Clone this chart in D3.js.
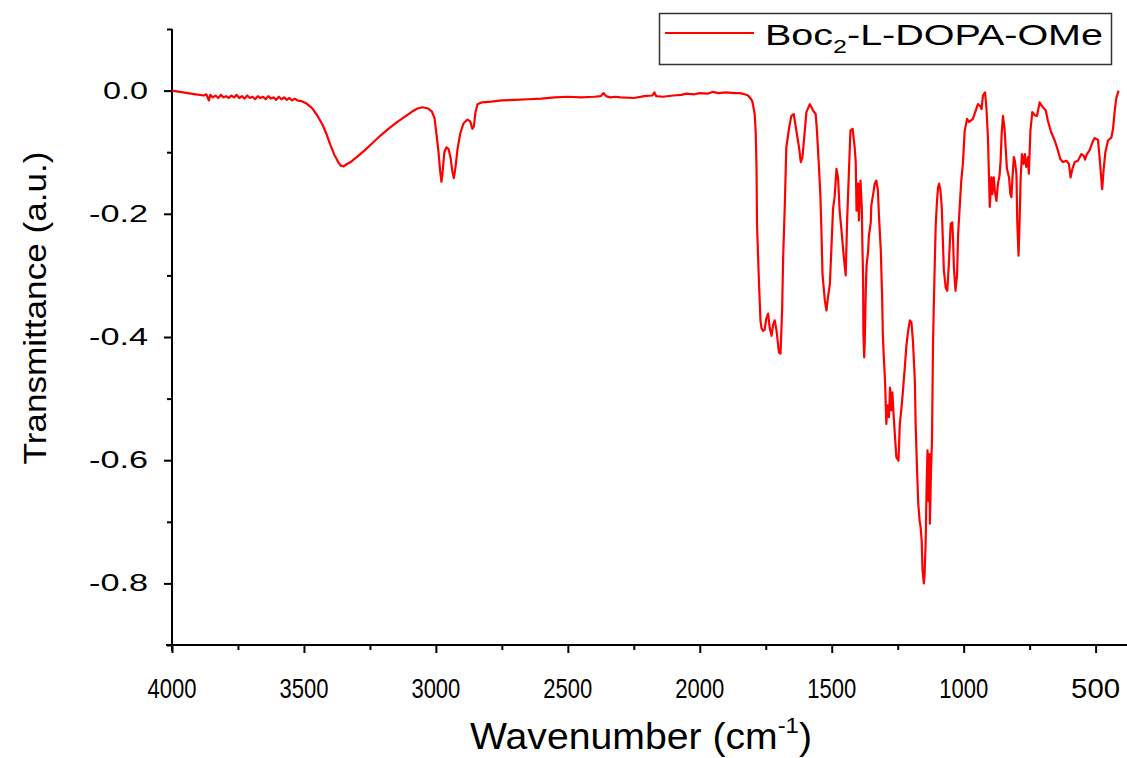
<!DOCTYPE html>
<html>
<head>
<meta charset="utf-8">
<script src="https://cdn.jsdelivr.net/npm/d3@7"></script>
<style>
  body { margin: 0; background: #fff; }
  svg { display: block; }
  text { font-family: Arial, "Liberation Sans", sans-serif; fill: #000; }
</style>
</head>
<body>
<svg id="chart" width="1127" height="758"></svg>
<script>
// FT-IR spectrum of Boc2-L-DOPA-OMe
const wavenumber = [
  4000,3970,3940,3910,3880,3870,3865,3860,3855,3845,3835,3825,3815,3805,3795,3785,3775,3765,3755,3745,
  3735,3725,3715,3705,3695,3685,3675,3665,3655,3645,3635,3625,3615,3605,3595,3585,3575,3565,3555,3545,
  3535,3525,3510,3490,3470,3450,3430,3415,3400,3385,3370,3360,3350,3340,3320,3300,3270,3240,
  3210,3180,3150,3120,3090,3070,3050,3030,3015,3005,2998,2990,2984,2979,2974,2968,2960,2952,2944,2938,
  2932,2926,2918,2908,2895,2880,2870,2862,2856,2850,2842,2825,2790,2750,2700,2650,2600,2550,2500,2450,
  2400,2375,2365,2355,2340,2320,2300,2250,2210,2180,2172,2165,2140,2100,2070,2050,2020,2000,1970,1950,
  1930,1900,1870,1848,1830,1817,1805,1800,
  1792,1788,1785,1783,1776,1770,1766,1760,1754,1748,1741,1735,1728,1722,1716,1709,1700,1694,1688,1684,
  1678,1672,1662,1653,1644,1634,1624,1617,1611,1602,1596,1583,1571,1561,1556,1549,1543,1539,1535,1526,
  1520,1514,1507,1501,1495,1489,1482,1476,1470,1463,1454,1447,1442,1434,1429,1421,1413,1409,1406,1400,
  1397,1391,1386,1384,1381,1380,1377,1375,1371,1368,1362,1359,1352,1350,1343,1337,1331,1325,1321,1314,
  1309,1306,1302,1298,1293,1289,1283,1279,1274,1270,1265,1260,1255,1247,1242,1236,1230,1223,1217,1211,
  1204,1198,1192,1185,1182,1177,1172,1167,1163,1159,1156,1151,1148,1144,1140,1137,1134,1130,1128,1124,
  1120,1116,1110,1106,1101,1097,1093,1088,1083,1078,1075,1068,1062,1056,1049,1043,1040,1037,1031,1025,
  1021,1015,1009,1003,996,987,980,971,965,954,946,937,932,927,919,914,908,904,901,895,
  891,886,882,876,870,864,860,856,851,845,841,836,828,823,819,815,810,806,800,797,
  792,788,784,779,773,768,763,756,753,747,740,731,722,712,700,689,681,668,655,643,
  634,624,611,601,595,588,579,567,554,545,540,533,523,512,504,491,485,478,475,470,
  463,453,440,434,428,422,413
];
const transmittance = [
  0.000,-0.002,-0.004,-0.006,-0.008,-0.006,-0.011,-0.016,-0.007,-0.011,-0.008,-0.012,-0.007,-0.011,-0.009,-0.012,-0.008,-0.011,-0.007,-0.012,
  -0.009,-0.013,-0.008,-0.012,-0.010,-0.014,-0.009,-0.012,-0.010,-0.014,-0.009,-0.013,-0.011,-0.015,-0.010,-0.014,-0.011,-0.015,-0.012,-0.016,
  -0.013,-0.016,-0.017,-0.021,-0.028,-0.040,-0.055,-0.070,-0.088,-0.104,-0.116,-0.122,-0.123,-0.120,-0.115,-0.108,-0.097,-0.085,
  -0.073,-0.062,-0.052,-0.043,-0.034,-0.029,-0.027,-0.029,-0.034,-0.045,-0.070,-0.100,-0.130,-0.148,-0.130,-0.100,-0.092,-0.095,-0.110,-0.130,
  -0.142,-0.125,-0.095,-0.070,-0.053,-0.047,-0.050,-0.062,-0.058,-0.035,-0.022,-0.019,-0.018,-0.016,-0.015,-0.014,-0.013,-0.011,-0.010,-0.011,
  -0.010,-0.009,-0.004,-0.009,-0.011,-0.010,-0.011,-0.012,-0.009,-0.008,-0.003,-0.009,-0.010,-0.008,-0.007,-0.005,-0.006,-0.004,-0.005,-0.002,
  -0.004,-0.003,-0.004,-0.004,-0.006,-0.008,-0.014,-0.019,
  -0.038,-0.068,-0.124,-0.219,-0.308,-0.373,-0.386,-0.390,-0.388,-0.370,-0.362,-0.385,-0.398,-0.380,-0.373,-0.390,-0.425,-0.427,-0.357,-0.271,
  -0.189,-0.092,-0.062,-0.041,-0.038,-0.065,-0.092,-0.116,-0.108,-0.065,-0.035,-0.022,-0.032,-0.038,-0.065,-0.119,-0.170,-0.227,-0.298,-0.341,
  -0.357,-0.335,-0.314,-0.254,-0.192,-0.173,-0.127,-0.141,-0.195,-0.227,-0.271,-0.300,-0.216,-0.122,-0.065,-0.062,-0.092,-0.116,-0.195,-0.151,
  -0.211,-0.146,-0.190,-0.246,-0.308,-0.395,-0.433,-0.410,-0.325,-0.284,-0.260,-0.235,-0.214,-0.187,-0.168,-0.151,-0.146,-0.162,-0.203,-0.260,
  -0.335,-0.400,-0.438,-0.471,-0.541,-0.511,-0.530,-0.482,-0.519,-0.490,-0.530,-0.563,-0.595,-0.601,-0.541,-0.517,-0.487,-0.449,-0.414,-0.392,
  -0.373,-0.376,-0.408,-0.471,-0.541,-0.611,-0.671,-0.698,-0.709,-0.731,-0.777,-0.800,-0.784,-0.733,-0.633,-0.584,-0.666,-0.590,-0.703,-0.620,
  -0.568,-0.406,-0.289,-0.219,-0.179,-0.157,-0.151,-0.162,-0.189,-0.254,-0.292,-0.320,-0.325,-0.280,-0.216,-0.214,-0.244,-0.287,-0.325,-0.300,
  -0.233,-0.189,-0.146,-0.119,-0.065,-0.046,-0.051,-0.048,-0.046,-0.032,-0.022,-0.025,-0.030,-0.008,-0.003,-0.027,-0.076,-0.141,-0.189,-0.141,
  -0.168,-0.141,-0.162,-0.179,-0.151,-0.138,-0.114,-0.070,-0.041,-0.062,-0.092,-0.127,-0.141,-0.168,-0.173,-0.141,-0.108,-0.114,-0.135,-0.211,
  -0.268,-0.211,-0.141,-0.103,-0.119,-0.103,-0.124,-0.108,-0.135,-0.065,-0.035,-0.040,-0.041,-0.019,-0.027,-0.032,-0.049,-0.068,-0.081,-0.097,
  -0.111,-0.116,-0.114,-0.119,-0.141,-0.127,-0.116,-0.114,-0.103,-0.106,-0.112,-0.103,-0.097,-0.084,-0.077,-0.080,-0.108,-0.146,-0.160,-0.130,
  -0.100,-0.081,-0.076,-0.062,-0.035,-0.013,0.000
];

const xMajorTicks = [4000, 3500, 3000, 2500, 2000, 1500, 1000, 500];
const xMinorTicks = [3750, 3250, 2750, 2250, 1750, 1250, 750];
const yMajorTicks = [0.0, -0.2, -0.4, -0.6, -0.8];
const yMinorTicks = [0.1, -0.1, -0.3, -0.5, -0.7, -0.9];
const xTitle = "Wavenumber (cm";
const xTitleSup = "-1";
const yTitle = "Transmittance (a.u.)";
const seriesName = ["Boc", "2", "-L-DOPA-OMe"];
const lineColor = "#ff0000";

const svg = d3.select("#chart");
const x = d3.scaleLinear().domain([4000, 400]).range([172, 1122]);
const y = d3.scaleLinear().domain([-0.9, 0.1]).range([645, 29]);

// axes
const xAxisY = y(-0.9), yAxisX = x(4000);
const gx = svg.append("g").attr("transform", `translate(0,${xAxisY})`);
gx.call(d3.axisBottom(x).tickValues(xMajorTicks).tickSize(8).tickFormat(""));
gx.append("g").call(d3.axisBottom(x).tickValues(xMinorTicks).tickSize(5).tickFormat(""));
gx.selectAll(".domain").remove();
gx.append("line").attr("x1", yAxisX - 6).attr("x2", 1127).attr("stroke", "#000").attr("stroke-width", 2);
gx.selectAll(".tick line").attr("stroke", "#000").attr("stroke-width", 2);

const gy = svg.append("g").attr("transform", `translate(${yAxisX},0)`);
gy.call(d3.axisLeft(y).tickValues(yMajorTicks).tickSize(8).tickFormat(""));
gy.append("g").call(d3.axisLeft(y).tickValues(yMinorTicks).tickSize(5).tickFormat(""));
gy.selectAll(".domain").remove();
gy.append("line").attr("y1", y(0.1)).attr("y2", xAxisY + 6).attr("stroke", "#000").attr("stroke-width", 2);
gy.selectAll(".tick line").attr("stroke", "#000").attr("stroke-width", 2);

// tick labels
svg.append("g").selectAll("text").data(xMajorTicks).join("text")
  .attr("x", d => x(d)).attr("y", 698)
  .attr("text-anchor", "middle").attr("font-size", 28)
  .attr("textLength", 49).attr("lengthAdjust", "spacingAndGlyphs")
  .text(d => d);

svg.append("g").selectAll("text").data(yMajorTicks).join("text")
  .attr("x", 148).attr("y", d => y(d) + 8)
  .attr("text-anchor", "end").attr("font-size", 23)
  .attr("textLength", d => d < 0 ? 59 : 45).attr("lengthAdjust", "spacingAndGlyphs")
  .text(d => d === 0 ? "0.0" : d.toFixed(1));

// axis titles
const xt = svg.append("text").attr("x", 641).attr("y", 749)
  .attr("text-anchor", "middle").attr("font-size", 36)
  .attr("textLength", 342).attr("lengthAdjust", "spacingAndGlyphs");
xt.append("tspan").text(xTitle);
xt.append("tspan").attr("font-size", 22).attr("dy", -16).text(xTitleSup);
xt.append("tspan").attr("dy", 16).text(")");

svg.append("text")
  .attr("transform", "translate(46,308) rotate(-90)")
  .attr("text-anchor", "middle").attr("font-size", 32)
  .attr("textLength", 313).attr("lengthAdjust", "spacingAndGlyphs")
  .text(yTitle);

// spectrum
const data = wavenumber.map((w, i) => ({ w, t: transmittance[i] }));
svg.append("path").datum(data)
  .attr("fill", "none").attr("stroke", lineColor).attr("stroke-width", 2.2)
  .attr("stroke-linejoin", "round")
  .attr("d", d3.line().x(d => x(d.w)).y(d => y(d.t)));

// legend
const lg = svg.append("g");
lg.append("rect").attr("x", 659.5).attr("y", 13.5).attr("width", 452).attr("height", 51)
  .attr("fill", "#fff").attr("stroke", "#333").attr("stroke-width", 1.5);
lg.append("line").attr("x1", 665).attr("x2", 754).attr("y1", 33).attr("y2", 33)
  .attr("stroke", lineColor).attr("stroke-width", 2);
const lt = lg.append("text").attr("x", 765).attr("y", 45).attr("font-size", 30)
  .attr("textLength", 338).attr("lengthAdjust", "spacingAndGlyphs");
lt.append("tspan").text(seriesName[0]);
lt.append("tspan").attr("font-size", 19).attr("dy", 8).text(seriesName[1]);
lt.append("tspan").attr("dy", -8).text(seriesName[2]);
</script>
</body>
</html>
